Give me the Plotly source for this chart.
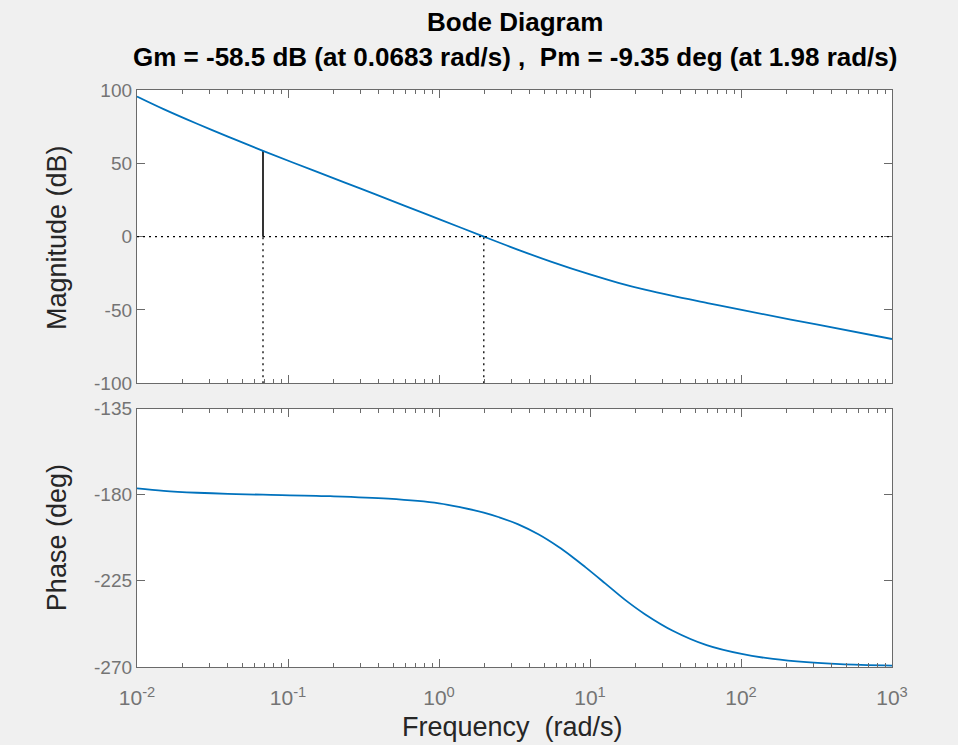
import plotly.graph_objects as go

# ---- data ----
mag_freq = [0.01, 0.015, 0.025, 0.04, 0.0683, 0.15, 0.3, 0.6, 1.0, 1.98,
            3.35, 5.57, 10, 15.4, 23.1, 34.7, 60, 101, 316, 1000]
mag_db = [95.6, 87.0, 77.0, 68.2, 58.5, 44.8, 32.9, 20.8, 12.0, 0.0,
          -9.0, -17.2, -25.8, -31.5, -36.2, -40.3, -45.3, -50.0, -59.9, -69.8]

phase_freq = [0.01, 0.015, 0.025, 0.04, 0.0683, 0.19, 0.46, 1.0, 1.4, 1.98,
              2.5, 3.35, 4.55, 6.17, 7.5, 9.27, 12.6, 17.0, 23.1, 35.6,
              59.2, 101, 163, 272, 452, 1000]
phase_deg = [-176.7, -178.0, -179.0, -179.6, -180.0, -180.8, -182.1, -184.5,
             -186.6, -189.35, -191.8, -195.5, -200.7, -207.2, -212.0, -217.7,
             -226.3, -234.8, -242.4, -251.2, -258.6, -263.2, -265.8, -267.5,
             -268.5, -269.3]

gm_freq = 0.0683     # rad/s
gm_db = -58.5        # gain margin (dB)
pm_freq = 1.98       # rad/s
pm_deg = -9.35       # phase margin (deg)

x_tick_vals = [0.01, 0.1, 1, 10, 100, 1000]
x_tick_text = ["10<sup>-2</sup>", "10<sup>-1</sup>", "10<sup>0</sup>",
               "10<sup>1</sup>", "10<sup>2</sup>", "10<sup>3</sup>"]
mag_ticks = [-100, -50, 0, 50, 100]
mag_tick_text = ["-100", "-50", "0", "50", "100"]
phase_ticks = [-270, -225, -180, -135]
phase_tick_text = ["-270", "-225", "-180", "-135"]

title_line1 = "Bode Diagram"
title_line2 = "Gm = -58.5 dB (at 0.0683 rad/s) ,  Pm = -9.35 deg (at 1.98 rad/s)"

# ---- styling ----
BLUE = "#0072BD"
AX = "#6a6a6a"
TICKFONT = dict(family="Liberation Sans, Arial, sans-serif", size=19, color="#747474")
XTICKFONT = dict(family="Liberation Sans, Arial, sans-serif", size=21, color="#747474")
LABELFONT = dict(family="Liberation Sans, Arial, sans-serif", size=27, color="#262626")
TITLEFONT = dict(family="Liberation Sans, Arial, sans-serif", size=26, color="#000000")
DOT = "2px,4px"

minor_vals = [m * 10 ** e for e in range(-2, 3) for m in range(2, 10)]
mag_range = [-100, 100]
phase_range = [-270, -135]

fig = go.Figure()

# Gain margin / phase margin markers (magnitude axes)
fig.add_trace(go.Scatter(x=[gm_freq, gm_freq], y=[mag_range[0], 0], mode="lines",
                         line=dict(color="black", width=1.3, dash=DOT),
                         xaxis="x", yaxis="y", showlegend=False, hoverinfo="skip"))
fig.add_trace(go.Scatter(x=[gm_freq, gm_freq], y=[0, -gm_db], mode="lines",
                         line=dict(color="black", width=1.6),
                         xaxis="x", yaxis="y", showlegend=False, hoverinfo="skip"))
fig.add_trace(go.Scatter(x=[pm_freq, pm_freq], y=[mag_range[0], 0], mode="lines",
                         line=dict(color="black", width=1.3, dash=DOT),
                         xaxis="x", yaxis="y", showlegend=False, hoverinfo="skip"))
fig.add_shape(type="line", xref="x domain", yref="y", x0=0, x1=1, y0=0, y1=0,
              line=dict(color="black", width=1.3, dash=DOT))

# Magnitude curve
fig.add_trace(go.Scatter(x=mag_freq, y=mag_db, mode="lines",
                         line=dict(color=BLUE, width=1.8, shape="spline", smoothing=1.0),
                         xaxis="x", yaxis="y", showlegend=False))
# Phase curve
fig.add_trace(go.Scatter(x=phase_freq, y=phase_deg, mode="lines",
                         line=dict(color=BLUE, width=1.8, shape="spline", smoothing=1.0),
                         xaxis="x2", yaxis="y2", showlegend=False))

common_x = dict(type="log", range=[-2, 3], showline=True, linecolor=AX, linewidth=1.3,
                mirror="allticks", ticks="inside", ticklen=8, tickwidth=1.2, tickcolor=AX,
                showgrid=False, zeroline=False, tickmode="array", tickvals=x_tick_vals,
                minor=dict(tickmode="array", tickvals=minor_vals, ticks="inside",
                           ticklen=4, tickwidth=1, tickcolor=AX, showgrid=False))
common_y = dict(showline=True, linecolor=AX, linewidth=1.3, mirror="allticks",
                ticks="inside", ticklen=8, tickwidth=1.2, tickcolor=AX,
                showgrid=False, zeroline=False, tickfont=TICKFONT, tickmode="array")

fig.update_layout(
    width=958, height=745,
    paper_bgcolor="#f0f0f0", plot_bgcolor="#ffffff",
    margin=dict(l=137, r=66, t=90, b=78),
    xaxis=dict(common_x, domain=[0, 1], anchor="y", showticklabels=False),
    xaxis2=dict(common_x, domain=[0, 1], anchor="y2", matches="x",
                ticktext=x_tick_text, tickfont=XTICKFONT, ticklabelstandoff=12),
    yaxis=dict(common_y, domain=[0.4917, 1], range=mag_range, anchor="x",
               tickvals=mag_ticks, ticktext=mag_tick_text),
    yaxis2=dict(common_y, domain=[0, 0.448], range=phase_range, anchor="x2",
                tickvals=phase_ticks, ticktext=phase_tick_text),
    showlegend=False,
    annotations=[
        dict(text="<b>%s</b>" % title_line1, xref="paper", yref="paper", x=0.5, y=1.1178,
             xanchor="center", yanchor="middle", showarrow=False, font=TITLEFONT),
        dict(text="<b>%s</b>" % title_line2, xref="paper", yref="paper", x=0.5, y=1.0572,
             xanchor="center", yanchor="middle", showarrow=False, font=TITLEFONT),
        dict(text="Magnitude (dB)", xref="paper", yref="paper", x=-0.106, y=0.745,
             xanchor="center", yanchor="middle", textangle=-90, showarrow=False, font=LABELFONT),
        dict(text="Phase (deg)", xref="paper", yref="paper", x=-0.106, y=0.225,
             xanchor="center", yanchor="middle", textangle=-90, showarrow=False, font=LABELFONT),
        dict(text="Frequency  (rad/s)", xref="paper", yref="paper", x=0.498, y=-0.104,
             xanchor="center", yanchor="middle", showarrow=False, font=LABELFONT),
    ],
)

fig.write_html("out.html", config={"displayModeBar": False},
               post_script="document.body.style.margin='0';document.body.style.padding='0';"
                           "document.body.style.background='#f0f0f0';")
